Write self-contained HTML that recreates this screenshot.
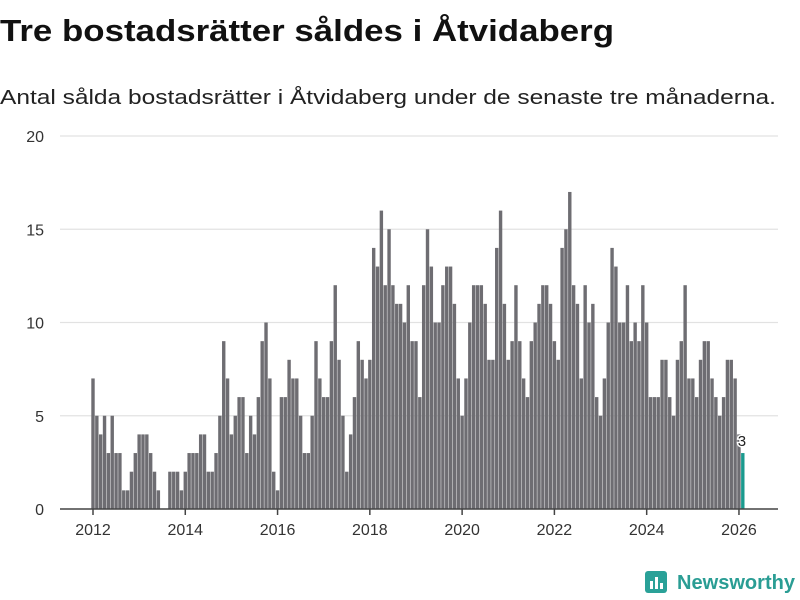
<!DOCTYPE html>
<html><head><meta charset="utf-8">
<style>
html,body{margin:0;padding:0;background:#fff;}
svg{display:block;font-family:"Liberation Sans","DejaVu Sans",sans-serif;}
</style></head>
<body>
<svg id="chart" width="800" height="600" viewBox="0 0 800 600" xmlns="http://www.w3.org/2000/svg">
  <text x="0" y="41" font-size="31" font-weight="bold" fill="#111" textLength="614" lengthAdjust="spacingAndGlyphs">Tre bostadsrätter såldes i Åtvidaberg</text>
  <text x="0" y="104" font-size="20" fill="#222" textLength="776" lengthAdjust="spacingAndGlyphs">Antal sålda bostadsrätter i Åtvidaberg under de senaste tre månaderna.</text>
  <g id="grid"></g>
  <g id="ylabels"></g>
  <g id="bars"></g>
  <g id="xaxis"></g>
  <g>
    <rect x="645" y="571" width="22" height="22" rx="3" fill="#2aa198"/>
    <rect x="650" y="581" width="3" height="8" fill="#fff"/>
    <rect x="655" y="577" width="3" height="12" fill="#fff"/>
    <rect x="660" y="583" width="3" height="6" fill="#fff"/>
    <text x="677" y="589" font-size="20" font-weight="bold" fill="#2a9d94" textLength="118" lengthAdjust="spacingAndGlyphs">Newsworthy</text>
  </g>
</svg>
<script>
const values = [7,5,4,5,3,5,3,3,1,1,2,3,4,4,4,3,2,1,
0,0,2,2,2,1,2,3,3,3,
4,4,2,2,3,5,9,7,4,5,6,6,3,5,4,6,9,10,7,2,1,6,6,8,7,7,5,3,3,
5,9,7,6,6,9,12,8,5,2,4,6,9,8,7,8,14,13,16,12,15,12,11,11,10,12,9,9,
6,12,15,13,10,10,12,13,13,11,7,5,7,10,12,12,12,11,8,8,14,16,11,8,9,12,9,7,
6,9,10,11,12,12,11,9,8,14,15,17,12,11,7,12,10,11,6,5,7,10,14,13,10,10,12,9,
10,9,12,10,6,6,6,8,8,6,5,8,9,12,7,7,6,8,9,9,7,6,5,6,8,8,7,4,3];
const startYear = 2012;
const yTicks = [0,5,10,15,20];
const xTickYears = [2012,2014,2016,2018,2020,2022,2024,2026];

const NS = "http://www.w3.org/2000/svg";
const y0 = 509, yTop = 136, yMax = 20;
const xStart = 93, perMonth = 3.845;
function yScale(v){ return y0 - (v / yMax) * (y0 - yTop); }
function xScale(monthIndex){ return xStart + monthIndex * perMonth; }
function mk(tag, attrs){ const e = document.createElementNS(NS, tag); for (const k in attrs) e.setAttribute(k, attrs[k]); return e; }

const grid = document.getElementById('grid');
const yl = document.getElementById('ylabels');
yTicks.forEach(t => {
  if (t > 0) {
    const l = mk('line', {x1:60, x2:778, y1:yScale(t), y2:yScale(t), stroke:'#e2e2e2', 'stroke-width':1.2});
    
    
    grid.appendChild(l);
  }
  const tx = mk('text', {x:44, y:yScale(t)+6, 'text-anchor':'end', 'font-size':16, fill:'#333'});
  
  
  tx.textContent = t;
  yl.appendChild(tx);
});

const bars = document.getElementById('bars');
const bw = 3.4;
values.forEach((v, i) => {
  const last = i === values.length - 1;
  const x = xScale(i);
  const r = mk('rect', {x:x - bw/2, y:yScale(v), width:bw, height:y0 - yScale(v), fill: last ? '#1a9a8e' : '#6e6d72'});
  
  
  bars.appendChild(r);
  if (last) {
    const lab = mk('text', {x:x - 5, y:yScale(v) - 7, 'font-size':15, fill:'#222', stroke:'#fff', 'stroke-width':3, 'paint-order':'stroke'});
    
    
    lab.textContent = v;
    bars.appendChild(lab);
  }
});

const xa = document.getElementById('xaxis');
const base = mk('line', {x1:60, x2:778, y1:y0, y2:y0, stroke:'#444', 'stroke-width':1.5});


xa.appendChild(base);
xTickYears.forEach(yr => {
  const x = xScale((yr - startYear) * 12);
  const t = mk('line', {x1:x, x2:x, y1:y0, y2:y0+6, stroke:'#444', 'stroke-width':1.5});
  
  
  xa.appendChild(t);
  const tx = mk('text', {x:x, y:y0+26, 'text-anchor':'middle', 'font-size':16, fill:'#333'});
  
  
  tx.textContent = yr;
  xa.appendChild(tx);
});
</script>
</body></html>
